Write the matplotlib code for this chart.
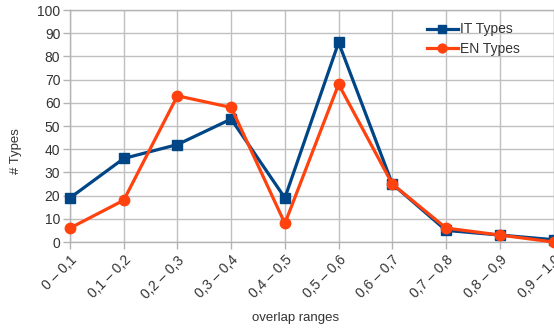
import matplotlib
matplotlib.use("Agg")
import matplotlib.pyplot as plt

categories = ["0 – 0,1", "0,1 – 0,2", "0,2 – 0,3", "0,3 – 0,4", "0,4 – 0,5",
              "0,5 – 0,6", "0,6 – 0,7", "0,7 – 0,8", "0,8 – 0,9", "0,9 – 1,0"]
it_types = [19, 36, 42, 53, 19, 86, 25, 5, 3, 1]
en_types = [6, 18, 63, 58, 8, 68, 25, 6, 3, 0]

plt.rcParams['font.family'] = ['Liberation Sans', 'DejaVu Sans']

fig = plt.figure(figsize=(5.54, 3.31), dpi=100)
ax = fig.add_axes([70/554, 1-242/331, (553.5-70)/554, (242-10)/331])

x = list(range(len(categories)))
ax.plot(x, it_types, color='#004586', lw=2.3, marker='s', ms=7.5, label='IT Types',
        zorder=3, clip_on=False)
ax.plot(x, en_types, color='#ff420e', lw=2.3, marker='o', ms=7.5, label='EN Types',
        zorder=4, clip_on=False)

ax.set_xlim(0, len(categories)-1)
ax.set_ylim(0, 100)
ax.set_yticks(range(0, 101, 10))
ax.set_xticks(x)
ax.set_xticklabels(categories, rotation=45, ha='right', rotation_mode='anchor', fontsize=10, color='#333333')
ax.tick_params(axis='y', labelsize=10, colors='#b3b3b3', labelcolor='#333333', length=5, width=1, pad=2)
ax.tick_params(axis='x', colors='#b3b3b3', labelcolor='#333333', length=5, width=1, pad=3)
ax.grid(True, color='#c0c0c0', lw=1)
ax.set_axisbelow(True)
for s in ax.spines.values():
    s.set_color('#b3b3b3')
    s.set_linewidth(1)

ax.set_ylabel('# Types', fontsize=9.5, color='#333333')
ax.yaxis.set_label_coords(-48/484, 1-(151-10)/232)
ax.set_xlabel('overlap ranges', fontsize=9.5, color='#333333')
ax.xaxis.set_label_coords((296-70)/484, -(318-242)/232)
ax.xaxis.label.set_va('center')

leg = ax.legend(loc='upper left', bbox_to_anchor=(345/484, 1.0), frameon=False,
                fontsize=10, handlelength=2.2, handletextpad=0.2, labelspacing=0.4,
                labelcolor='#333333', markerscale=0.85)

fig.savefig('out.png', dpi=100)
